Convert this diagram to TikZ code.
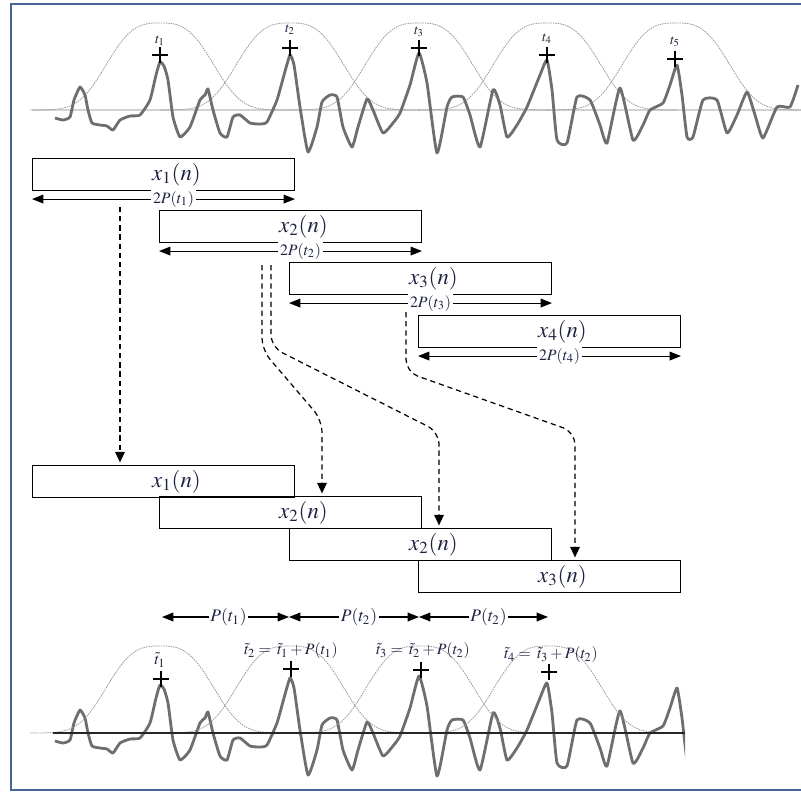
\documentclass[tikz,border=0pt]{standalone}
\usepackage{mathptmx}
\usetikzlibrary{arrows.meta,shapes.misc}

\definecolor{ink}{RGB}{30,35,65}
\definecolor{framecol}{RGB}{70,100,150}
\definecolor{wave}{RGB}{110,110,110}

\tikzset{
  winbox/.style={draw, line width=0.6pt, anchor=north west, minimum width=5.24cm,
    minimum height=0.64cm, inner sep=0pt},
  dimarrow/.style={{Triangle[length=6.5pt,width=5pt]}-{Triangle[length=6.5pt,width=5pt]}, line width=0.6pt},
  flow/.style={-{Triangle[length=6pt,width=5.5pt]}, dash pattern=on 3pt off 2.2pt,
    line width=0.7pt, rounded corners=0.25cm, shorten >=1.5pt},
  bell/.style={gray!80, line width=0.45pt, dash pattern=on 0.9pt off 0.5pt},
  signal/.style={wave, line width=1.6pt, line join=round},
  peakmark/.style={cross out, draw, line width=0.6pt, rotate=45, minimum size=0.2cm, inner sep=0pt},
  lbl/.style={text=ink, inner sep=1pt}
}

% the speech segment, pixel coordinates
\newcommand\speechpath{plot[smooth, tension=0.3] coordinates {
  (55,118) (63,120) (70,117) (74,100) (80,87) (85,95) (88,110) (92,123) (100,125)
  (107,126) (113,130) (120,120) (130,116) (140,115) (150,100) (156,75) (160,62)
  (164,66) (168,80) (173,117) (180,137) (190,127) (200,100) (205,95) (208,89)
  (213,110) (220,133) (227,137) (233,117) (240,115) (250,123) (260,124) (267,122)
  (277,100) (284,75) (290,55) (294,65) (300,107) (308,152) (317,127) (322,102)
  (330,95) (337,97) (343,127) (352,147) (358,127) (367,99) (373,110) (383,133)
  (393,123) (400,113) (410,85) (419,53) (427,83) (437,153) (447,107) (452,97)
  (463,97) (470,115) (480,147) (493,90) (500,105) (507,137) (517,125) (527,107)
  (540,75) (547,60) (552,90) (557,140) (567,143) (577,97) (590,100) (600,125)
  (607,143) (620,88) (633,140) (643,125) (650,110) (663,103) (670,85) (677,65)
  (682,95) (687,137) (693,137) (703,100) (717,100) (727,133) (737,115) (747,92)
  (755,115) (763,138) (777,107) (790,107) (798,85)}}

\begin{document}
\begin{tikzpicture}[x=0.02cm, y=-0.02cm]
    \useasboundingbox (0,0) rectangle (801,792);
    \draw[framecol, line width=1.1pt] (801,4) -- (11,4) -- (11,790) -- (801,790);

    % Analysis frame
    \draw[gray!35, line width=0.8pt] (32,110) -- (801,110);
    \foreach \c in {160,290,419,547,676}
        \draw[bell] plot[variable=\t, domain=-130:130, samples=81] ({\c+\t}, {110-87*exp(-(abs(\t)/62)^3)});
    \draw[signal] \speechpath;

    \foreach \i/\x/\y/\ly in {1/160/55/41, 2/290/48/30, 3/419/48/32, 4/547/55/39, 5/675/59/42}{
        \node[peakmark] (m\i) at (\x,\y) {};
        \node[lbl, font=\footnotesize] (tl\i) at (\x,\ly) {$t_{\i}$};
    }

    % Windowed segments
    \foreach \i/\xl/\yt in {1/32/158, 2/159/210, 3/289/262, 4/418/315}{
        \node[winbox] (w\i) at (\xl,\yt) {};
        \node[lbl, font=\fontsize{13}{15}\selectfont] (wl\i) at ([xshift=0.26cm]w\i.center) {$x_{\i}(n)$};
        \draw[dimarrow] ([yshift=-0.16cm]w\i.south west) -- ([yshift=-0.16cm]w\i.south east)
            node[midway, fill=white, xshift=0.2cm, lbl, font=\small] {$2P(t_{\i})$};
    }

    % Overlap-add
    \foreach \i/\xl/\yt/\k in {1/32/465/1, 2/159/496/2, 3/289/528/2, 4/418/560/3}{
        \node[winbox] (b\i) at (\xl,\yt) {};
        \node[lbl, font=\fontsize{13}{15}\selectfont] (bl\i) at ([xshift=0.26cm]b\i.center) {$x_{\k}(n)$};
    }

    \coordinate (s1) at (120,207);
    \coordinate (s2) at (262,265);
    \coordinate (s3) at (271,265);
    \coordinate (s4) at (406,312);
    \coordinate (e2) at (322,496);
    \coordinate (e3) at (439,528);
    \coordinate (e4) at (575,560);

    \draw[flow] (s1) -- (s1 |- b1.north);
    \draw[flow] (s2) -- ++(0,85) -- (322,420) -- (e2);
    \draw[flow] (s3) -- ++(0,82) -- (439,432) -- (e3);
    \draw[flow] (s4) -- ++(0,60) -- (575,432) -- (e4);

    % Synthesis pitch marks
    \foreach \i/\x in {1/162, 2/289, 3/419, 4/548}
        \coordinate (c\i) at (\x,617);
    \draw[dimarrow] (c1) -- (c2) node[midway, fill=white, xshift=0.06cm, lbl] {$P(t_1)$};
    \draw[dimarrow] (c2) -- (c3) node[midway, fill=white, xshift=0.1cm, lbl] {$P(t_2)$};
    \draw[dimarrow] (c3) -- (c4) node[midway, fill=white, xshift=0.1cm, lbl] {$P(t_2)$};

    \begin{scope}
        \clip (30,630) rectangle (685,790);
        \draw[signal, shift={(0,623)}] \speechpath;
    \end{scope}
    \foreach \c in {160,290,420,548}
        \draw[bell] plot[variable=\t, domain=-130:130, samples=81] ({\c+\t}, {733-87*exp(-(abs(\t)/62)^3)});
    \draw[gray!30!black, line width=1.1pt] (53,733) -- (685,733);

    \foreach \i/\x/\y in {1/161/679, 2/291/669, 3/421/670, 4/549/672}
        \node[peakmark] (n\i) at (\x,\y) {};
    \node[lbl, font=\small] (nl1) at (160,660) {$\tilde t_1$};
    \node[lbl, font=\small] (nl2) at (291,651) {$\tilde t_2=\mkern3mu\tilde t_1+P(t_1)$};
    \node[lbl, font=\small] (nl3) at (423,651) {$\tilde t_3=\mkern3mu\tilde t_2+P(t_2)$};
    \node[lbl, font=\small] (nl4) at (551,655) {$\tilde t_4=\mkern3mu\tilde t_3+P(t_2)$};
\end{tikzpicture}
\end{document}
